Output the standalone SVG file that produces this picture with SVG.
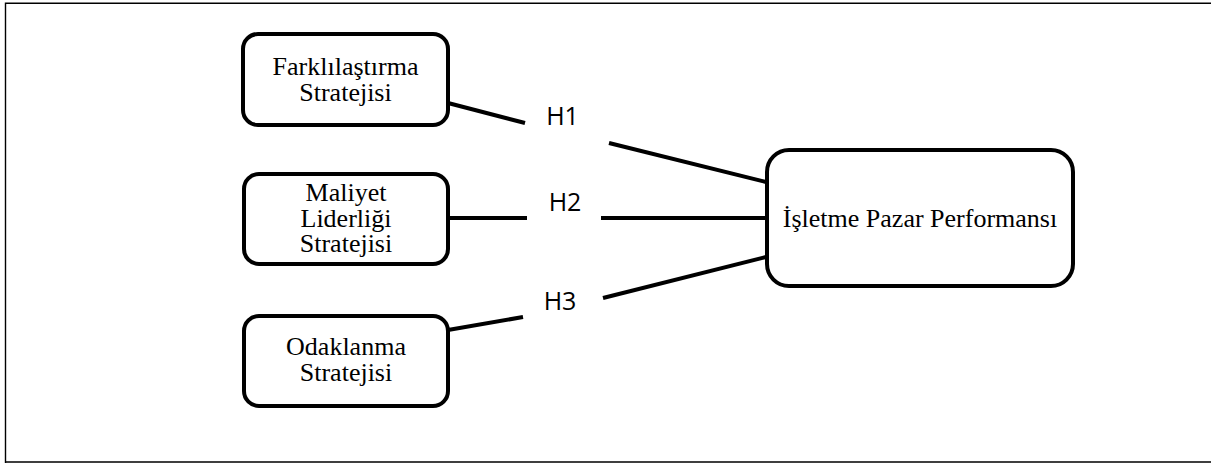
<svg xmlns="http://www.w3.org/2000/svg" width="1211" height="463" viewBox="0 0 1211 463">
<style>
.box{fill:#fff;stroke:#000;stroke-width:4}
.t{font-family:"Liberation Serif","Times New Roman",serif;font-size:26px;fill:#000;text-anchor:middle}
.h{font-family:"Open Sans","Liberation Sans",sans-serif;font-size:25px;fill:#000;text-anchor:middle}
.c{stroke:#000;stroke-width:4;fill:none}
</style>
<rect width="1211" height="463" fill="#fff"/>
<path d="M5.5 463 V3.3 H1211 M5.5 462 H1211" fill="none" stroke="#000" stroke-width="1.4"/>
<g id="connectors">
<line class="c" x1="448" y1="103" x2="525" y2="123"/>
<line class="c" x1="609" y1="143" x2="766" y2="182"/>
<line class="c" x1="448" y1="218" x2="527" y2="218"/>
<line class="c" x1="601" y1="218" x2="767" y2="218"/>
<line class="c" x1="448" y1="330" x2="523" y2="317"/>
<line class="c" x1="603" y1="298" x2="766" y2="257"/>
<text class="h" x="562.5" y="125">H1</text>
<text class="h" x="565" y="211">H2</text>
<text class="h" x="560" y="310">H3</text>
</g>
<g id="n1">
<rect class="box" x="243" y="34" width="205" height="91" rx="15"/>
<text class="t" x="345.5" y="75">Farklılaştırma</text>
<text class="t" x="345.5" y="101">Stratejisi</text>
</g>
<g id="n2">
<rect class="box" x="244" y="174" width="204" height="90" rx="15"/>
<text class="t" x="346" y="201">Maliyet</text>
<text class="t" x="346" y="227">Liderliği</text>
<text class="t" x="346" y="252">Stratejisi</text>
</g>
<g id="n3">
<rect class="box" x="244" y="316" width="204" height="90" rx="15"/>
<text class="t" x="346" y="355">Odaklanma</text>
<text class="t" x="346" y="381">Stratejisi</text>
</g>
<g id="n4">
<rect class="box" x="767" y="150" width="306" height="136" rx="22"/>
<text class="t" x="920" y="227">İşletme Pazar Performansı</text>
</g>
</svg>
